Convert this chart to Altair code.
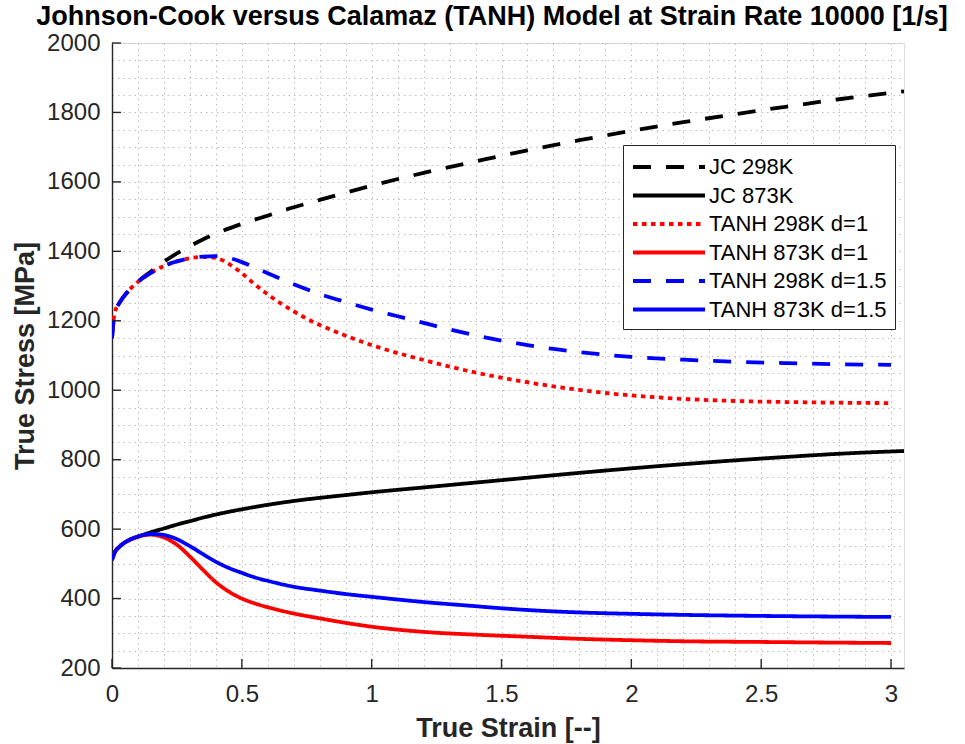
import altair as alt
import pandas as pd

# ---- data ----
series_names = ["JC 298K", "JC 873K", "TANH 298K d=1", "TANH 873K d=1",
                "TANH 298K d=1.5", "TANH 873K d=1.5"]
series_colors = ["#000000", "#000000", "#ff0000", "#ff0000", "#0000ff", "#0000ff"]
series_dashes = [[18, 15], [1, 0], [4.5, 4.5], [1, 0], [18, 15], [1, 0]]

jc298_strain = [0, 0.01, 0.03, 0.06, 0.1, 0.15, 0.2, 0.25, 0.3, 0.35, 0.4, 0.5, 0.6,
                0.7, 0.8, 0.9, 1.0, 1.2, 1.4, 1.6, 1.8, 2.0, 2.2, 2.4, 2.6, 2.8, 3.05]
jc298_stress = [1150, 1222, 1253, 1283, 1313, 1342, 1370, 1394, 1415, 1434, 1451, 1479, 1503,
                1527, 1548, 1569, 1589, 1626, 1659, 1691, 1720, 1747, 1772, 1795, 1817, 1838, 1861]

jc873_strain = [0, 0.01, 0.03, 0.06, 0.1, 0.15, 0.2, 0.25, 0.3, 0.35, 0.4, 0.5, 0.6,
                0.7, 0.8, 0.9, 1.0, 1.2, 1.4, 1.6, 1.8, 2.0, 2.2, 2.4, 2.6, 2.8, 3.05]
jc873_stress = [511, 532, 550, 566, 578, 591, 602, 613, 623, 633, 642, 657, 670,
                681, 690, 698, 706, 720, 734, 748, 762, 775, 787, 798, 808, 817, 825]

t298d1_strain = [0, 0.01, 0.03, 0.06, 0.1, 0.15, 0.2, 0.25, 0.3, 0.35, 0.4, 0.45, 0.5,
                 0.55, 0.6, 0.65, 0.7, 0.75, 0.8, 0.9, 1.0, 1.1, 1.2, 1.3, 1.4, 1.5,
                 1.6, 1.7, 1.8, 1.9, 2.0, 2.2, 2.4, 2.6, 2.8, 3.0]
t298d1_stress = [1150, 1222, 1253, 1283, 1312, 1338, 1358, 1371, 1380, 1384, 1381, 1364, 1337,
                 1305, 1276, 1250, 1227, 1206, 1188, 1157, 1130, 1107, 1087, 1068, 1051, 1036,
                 1023, 1011, 1001, 992, 985, 975, 969, 966, 964, 963]

t873d1_strain = [0, 0.01, 0.03, 0.06, 0.1, 0.15, 0.2, 0.25, 0.3, 0.35, 0.4, 0.45, 0.5,
                 0.55, 0.6, 0.7, 0.8, 0.9, 1.0, 1.2, 1.4, 1.6, 1.8, 2.0, 2.2, 2.5, 2.8, 3.0]
t873d1_stress = [511, 532, 550, 566, 578, 584, 576, 555, 521, 483, 447, 420, 400,
                 386, 375, 357, 343, 330, 319, 304, 296, 290, 284, 280, 277, 275, 273, 272]

t298d15_strain = [0, 0.01, 0.03, 0.06, 0.1, 0.15, 0.2, 0.25, 0.3, 0.35, 0.4, 0.45, 0.5,
                  0.55, 0.6, 0.7, 0.8, 0.9, 1.0, 1.1, 1.2, 1.3, 1.4, 1.5, 1.6, 1.7,
                  1.8, 1.9, 2.0, 2.2, 2.4, 2.6, 2.8, 3.0]
t298d15_stress = [1150, 1222, 1253, 1283, 1312, 1338, 1358, 1371, 1380, 1385, 1386, 1381, 1369,
                  1353, 1337, 1305, 1277, 1254, 1232, 1213, 1194, 1175, 1158, 1143, 1130, 1119,
                  1110, 1102, 1096, 1088, 1082, 1078, 1075, 1073]

t873d15_strain = [0, 0.01, 0.03, 0.06, 0.1, 0.15, 0.2, 0.25, 0.3, 0.35, 0.4, 0.45, 0.5,
                  0.55, 0.6, 0.7, 0.8, 0.9, 1.0, 1.2, 1.4, 1.5, 1.6, 1.8, 2.0, 2.2, 2.5, 2.8, 3.0]
t873d15_stress = [511, 532, 550, 566, 579, 586, 583, 571, 551, 528, 506, 488, 474,
                  461, 451, 434, 423, 413, 405, 390, 378, 372, 367, 360, 356, 353, 350, 348, 347]

x_major = [0, 0.5, 1, 1.5, 2, 2.5, 3]
y_major = [200, 400, 600, 800, 1000, 1200, 1400, 1600, 1800, 2000]
x_grid = [round(i * 0.1, 1) for i in range(31)]
y_grid = list(range(200, 2001, 50))

# ---- tables ----
pairs = [(jc298_strain, jc298_stress), (jc873_strain, jc873_stress),
         (t298d1_strain, t298d1_stress), (t873d1_strain, t873d1_stress),
         (t298d15_strain, t298d15_stress), (t873d15_strain, t873d15_stress)]
rows = []
for name, (xs, ys) in zip(series_names, pairs):
    for xv, yv in zip(xs, ys):
        rows.append({"series": name, "strain": xv, "stress": yv})
df = pd.DataFrame(rows)

FONT = "Liberation Sans"
TXT = "#262626"
W, H = 792, 625

xscale = alt.Scale(domain=[0, 3.05], nice=False, zero=False)
yscale = alt.Scale(domain=[200, 2000], nice=False, zero=False)

legend = alt.Legend(title=None, orient="none", legendX=511, legendY=102,
                    symbolType="M-3,0H3", symbolSize=576, symbolOffset=24,
                    symbolStrokeWidth=3.8, symbolFillColor="transparent",
                    labelFont=FONT, labelFontSize=22, labelColor="black",
                    labelOffset=26, labelLimit=400,
                    rowPadding=3.5, padding=8,
                    strokeColor=TXT, fillColor="white")
color = alt.Color("series:N",
                  scale=alt.Scale(domain=series_names, range=series_colors),
                  legend=legend)
dash = alt.StrokeDash("series:N",
                      scale=alt.Scale(domain=series_names, range=series_dashes),
                      legend=legend)

xaxis = alt.Axis(values=x_grid, grid=True, gridDash=[1.5, 4], gridColor="#bdbdbd",
                 gridWidth=1, ticks=False, domainColor=TXT, domainWidth=1.4,
                 labelExpr="abs(datum.value*2 - round(datum.value*2)) < 0.001 ? datum.label : ''",
                 format="~g", labelFont=FONT, labelFontSize=24, labelColor=TXT,
                 labelPadding=14, labelOverlap=False, labelFlush=False,
                 title="True Strain [--]", titleFont=FONT, titleFontSize=27,
                 titleFontWeight="bold", titleColor=TXT, titlePadding=9)
yaxis = alt.Axis(values=y_grid, grid=True, gridDash=[1.5, 4], gridColor="#bdbdbd",
                 gridWidth=1, ticks=False, domainColor=TXT, domainWidth=1.4,
                 labelExpr="datum.value % 200 == 0 ? datum.label : ''",
                 format="d", labelFont=FONT, labelFontSize=24, labelColor=TXT,
                 labelPadding=12, labelOverlap=False, labelFlush=False,
                 title="True Stress [MPa]", titleFont=FONT, titleFontSize=27,
                 titleFontWeight="bold", titleColor=TXT, titlePadding=7)

layers = []
for i, name in enumerate(series_names):
    layers.append(
        alt.Chart(df).transform_filter(alt.datum.series == name)
        .mark_line(strokeWidth=3.8, interpolate="monotone", clip=True)
        .encode(
            x=alt.X("strain:Q", scale=xscale, axis=xaxis),
            y=alt.Y("stress:Q", scale=yscale, axis=yaxis),
            color=color, strokeDash=dash,
        )
    )

ytick_df = pd.DataFrame({"stress": y_major})
xtick_df = pd.DataFrame({"strain": x_major})
yticks = alt.Chart(ytick_df).mark_rule(color=TXT, strokeWidth=1.4).encode(
    y=alt.Y("stress:Q", scale=yscale, axis=yaxis),
    x=alt.value(0), x2=alt.value(9))
xticks = alt.Chart(xtick_df).mark_rule(color=TXT, strokeWidth=1.4).encode(
    x=alt.X("strain:Q", scale=xscale, axis=xaxis),
    y=alt.value(H), y2=alt.value(H - 9))

chart = alt.layer(*layers, yticks, xticks).properties(
    width=W, height=H,
    title=alt.TitleParams(
        "Johnson-Cook versus Calamaz (TANH) Model at Strain Rate 10000 [1/s]",
        font=FONT, fontSize=27, fontWeight="bold", color="black",
        anchor="middle", frame="group", baseline="alphabetic", offset=14,
        dx=-16, dy=35),
    autosize=alt.AutoSizeParams(type="none"),
    padding={"left": 112, "top": 43, "right": 61, "bottom": 76},
).configure_view(stroke=None).configure(background="white")

chart.save("out.html", embed_options={"renderer": "svg", "actions": False})
